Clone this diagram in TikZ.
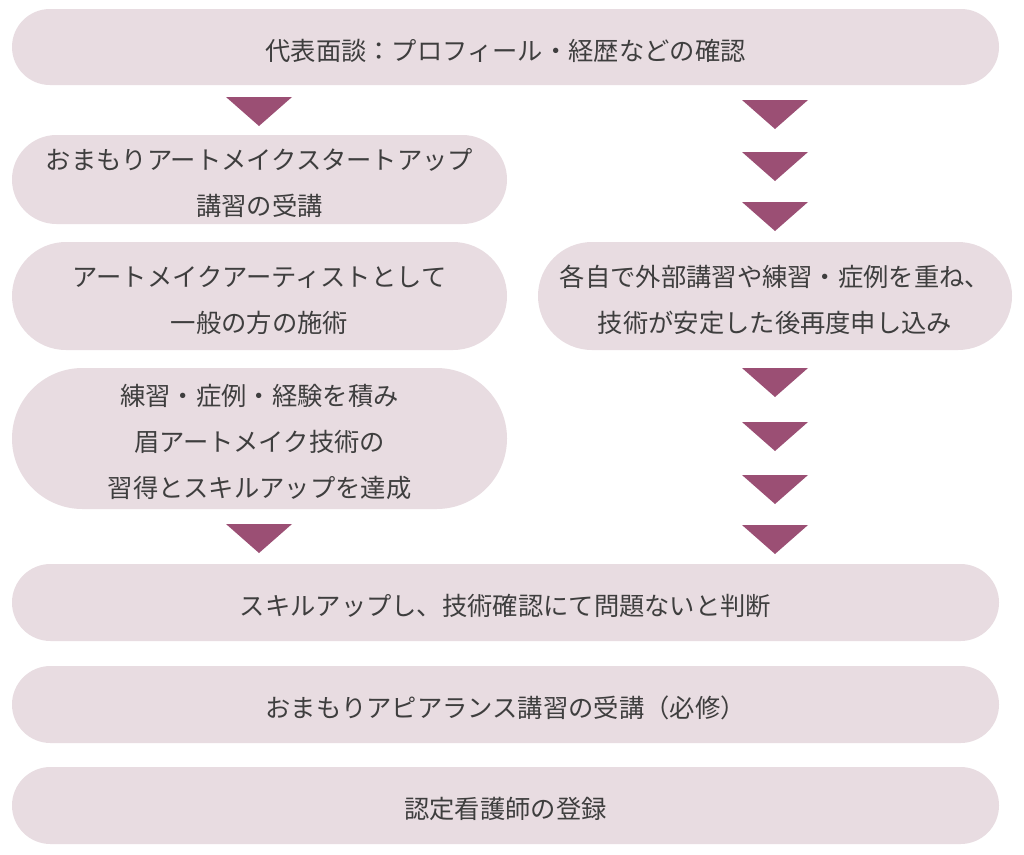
\documentclass[tikz,border=0pt]{standalone}
\usepackage{fontspec}
\setmainfont{Noto Sans CJK JP}
\definecolor{boxfill}{HTML}{E8DCE1}
\definecolor{trifill}{HTML}{9B4F74}
\definecolor{txt}{HTML}{3E3E3E}
\newcommand\mytri[2]{\fill[trifill] (#1-33,#2) -- (#1+33,#2) -- (#1,#2+29) -- cycle;}
\newcommand\tp{\rule{0pt}{28.5pt}}
\tikzset{
  pill/.style 2 args={draw=none, fill=boxfill, text=txt, inner sep=0pt,
    minimum width=#1, minimum height=#2, rounded corners=#2/2,
    align=center, font=\fontsize{25.3}{46}\selectfont}
}
\begin{document}
\begin{tikzpicture}[x=1pt,y=-1pt]
\useasboundingbox (0,0) rectangle (1024,854);
\fill[white] (0,0) rectangle (1024,854);
\node[pill={987}{76}] (b1) at (505.5,47) {\tp 代表面談：プロフィール・経歴などの確認};
\node[pill={495}{89}] (b2) at (259.5,179.5) {\tp おまもりアートメイクスタートアップ\\講習の受講};
\node[pill={495}{108}] (b3) at (259.5,296) {\tp アートメイクアーティストとして\\一般の方の施術};
\node[pill={474}{108}] (br) at (775,296) {\tp 各自で外部講習や練習・症例を重ね、\\技術が安定した後再度申し込み};
\node[pill={495}{141}] (b4) at (259.5,438.5) {\tp 練習・症例・経験を積み\\眉アートメイク技術の\\習得とスキルアップを達成};
\node[pill={987}{77}] (b5) at (505.5,602.5) {\tp スキルアップし、技術確認にて問題ないと判断};
\node[pill={987}{77}] (b6) at (505.5,704.5) {\tp おまもりアピアランス講習の受講（必修）};
\node[pill={987}{77}] (b7) at (505.5,805.5) {\tp 認定看護師の登録};
\mytri{259}{97}
\mytri{259}{524}
\mytri{775}{100}
\mytri{775}{152}
\mytri{775}{202}
\mytri{775}{368}
\mytri{775}{422}
\mytri{775}{475}
\mytri{775}{525}
\end{tikzpicture}
\end{document}
